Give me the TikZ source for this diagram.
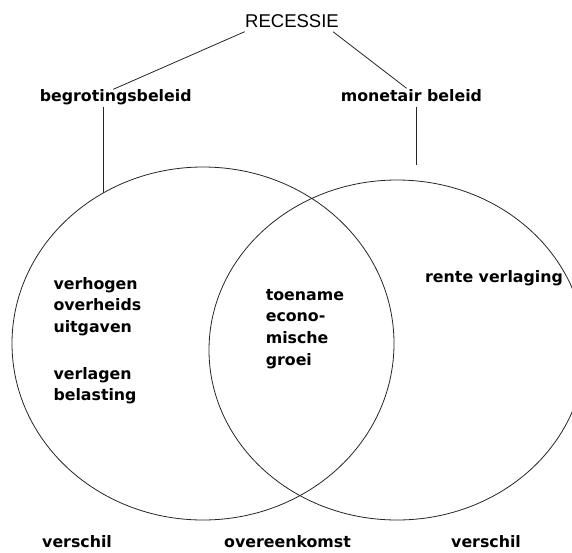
\documentclass[tikz,border=0pt]{standalone}
\usepackage{fontspec}
\setmainfont{DejaVu Sans}
\newfontfamily\headfont{Liberation Sans}
\usetikzlibrary{shapes.geometric}
\begin{document}
\begin{tikzpicture}[x=1pt,y=-1pt,
  lbl/.style={inner sep=0pt, anchor=base west, font=\fontsize{15.8}{18}\selectfont\bfseries},
  head/.style={inner sep=0pt, anchor=base west, font=\headfont\fontsize{18.5}{20}\selectfont},
  link/.style={line width=0.8pt, black!85},
  setline/.style={draw, ellipse, inner sep=0pt, line width=0.8pt, black!85}]
\useasboundingbox (0,0) rectangle (572,552);
\fill[white] (0,0) rectangle (572,552);
\clip (0,0) rectangle (572,552);

% the two overlapping policy sets
\node[setline, minimum width=382pt, minimum height=353pt] (fiscal) at (203,343.5) {};
\node[setline, minimum width=376pt, minimum height=340pt] (monetary) at (397,350) {};

% headings
\node[head] (rec) at (245,27) {RECESSIE};
\node[lbl] (beg) at (39.6,101.7) {begrotingsbeleid};
\node[lbl] (mon) at (340.7,101.7) {monetair beleid};

% connector end points
\coordinate (recL) at (244.7,31.7);
\coordinate (recR) at (333,31.7);
\coordinate (begT) at (113.3,89.3);
\coordinate (begB) at (103.3,106.7);
\coordinate (begF) at (103.3,192.5);
\coordinate (monT) at (406.6,88.3);
\coordinate (monB) at (416,106.7);
\coordinate (monF) at (416,165);

\draw[link] (recL) -- (begT);
\draw[link] (recR) -- (monT);
\draw[link] (begB) -- (begF);
\draw[link] (monB) -- (monF);

% contents of the sets
\node[lbl] (f1) at (53.3,289)   {verhogen};
\node[lbl] (f2) at (53.3,310.7) {overheids};
\node[lbl] (f3) at (53.3,332.5) {uitgaven};
\node[lbl] (f4) at (53.3,379)   {verlagen};
\node[lbl] (f5) at (53.3,400.8) {belasting};

\node[lbl] (c1) at (265.6,300)   {toename};
\node[lbl] (c2) at (265.6,321.8) {econo-};
\node[lbl] (c3) at (265.6,343.6) {mische};
\node[lbl] (c4) at (265.6,365.4) {groei};

\node[lbl] (m1) at (425,282) {rente verlaging};

% captions below
\node[lbl] (d1) at (42,547)  {verschil};
\node[lbl] (o1) at (224,547) {overeenkomst};
\node[lbl] (d2) at (451,547) {verschil};
\end{tikzpicture}
\end{document}
